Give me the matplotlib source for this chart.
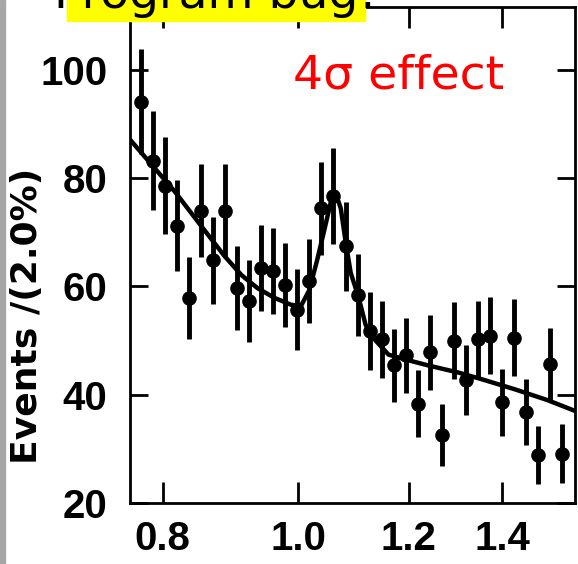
import matplotlib
matplotlib.use("Agg")
import matplotlib.pyplot as plt
from matplotlib.patches import Rectangle
from matplotlib.ticker import FixedLocator, NullLocator

# mass bin centres (2% bins) and events per bin
mass = [0.7722, 0.7876, 0.8034, 0.8195, 0.8359, 0.8526, 0.8696, 0.8870, 0.9048,
        0.9229, 0.9413, 0.9601, 0.9793, 0.9989, 1.0189, 1.0393, 1.0601, 1.0813,
        1.1029, 1.1250, 1.1475, 1.1704, 1.1938, 1.2177, 1.2421, 1.2669, 1.2923,
        1.3181, 1.3445, 1.3714, 1.3988, 1.4268, 1.4553, 1.4844, 1.5141, 1.5444]
events = [94.1, 83.2, 78.6, 71.2, 57.9, 74.0, 64.8, 74.0, 59.7,
          57.3, 63.4, 62.8, 60.3, 55.7, 61.0, 74.4, 76.7, 67.4,
          58.4, 51.8, 50.2, 45.4, 47.3, 38.3, 47.8, 32.6, 50.0,
          42.7, 50.2, 50.9, 38.6, 50.5, 36.8, 28.9, 45.6, 29.1]
errors = [9.7, 9.1, 8.9, 8.4, 7.6, 8.6, 8.0, 8.6, 7.7,
          7.6, 8.0, 7.9, 7.8, 7.5, 7.8, 8.6, 8.8, 8.2,
          7.6, 7.2, 7.1, 6.7, 6.9, 6.2, 6.9, 5.7, 7.1,
          6.5, 7.1, 7.1, 6.2, 7.1, 6.1, 5.4, 6.8, 5.4]

# fitted curve (background + peak)
fit_mass = [0.7577, 0.7874, 0.8163, 0.8476, 0.8859, 0.9109, 0.9351, 0.9615,
            0.9886, 1.0049, 1.0182, 1.0316, 1.0435, 1.0555, 1.0642, 1.0729,
            1.0818, 1.0906, 1.1050, 1.1177, 1.1362, 1.1606, 1.1934, 1.2391,
            1.3015, 1.3514, 1.4288, 1.5080, 1.5780]
fit_events = [87.2, 82.2, 77.5, 72.0, 65.6, 62.1, 59.7, 57.9,
              56.6, 56.4, 59.2, 64.7, 70.1, 75.6, 77.1, 74.4,
              68.0, 62.5, 57.9, 52.9, 50.0, 47.4, 46.5, 45.4,
              44.1, 42.9, 41.0, 39.0, 37.0]

x_ticks = [0.8, 1.0, 1.2, 1.4]
x_tick_labels = ["0.8", "1.0", "1.2", "1.4"]
y_ticks = [20, 40, 60, 80, 100]

tick_font = ["Liberation Sans", "DejaVu Sans"]

fig = plt.figure(figsize=(5.78, 5.64), dpi=100)
ax = fig.add_axes([0.2241, 0.1082, 0.7707, 0.8794])

ax.plot(fit_mass, fit_events, color="black", lw=3.2, solid_capstyle="round")
ax.errorbar(mass, events, yerr=errors, fmt="o", color="black", ms=9.5,
            elinewidth=3.5, capsize=0)

ax.set_xscale("log")
ax.set_xlim(0.7576, 1.578)
ax.set_ylim(20, 111.6)
ax.xaxis.set_major_locator(FixedLocator(x_ticks))
ax.xaxis.set_minor_locator(NullLocator())
ax.set_xticklabels(x_tick_labels)
ax.set_yticks(y_ticks)

for s in ax.spines.values():
    s.set_linewidth(2.0)
ax.tick_params(axis="x", which="both", direction="in", length=15, width=2.0,
               top=True, pad=12)
ax.tick_params(axis="y", direction="in", length=13, width=2.0, right=True, pad=16)
for lab in ax.get_xticklabels() + ax.get_yticklabels():
    lab.set_family(tick_font)
    lab.set_fontsize(29)
    lab.set_fontweight("bold")

fig.text(0.047, 0.44, "Events /(2.0%)", rotation=90, ha="center", va="center",
         fontsize=26, fontweight="bold", family=["DejaVu Sans"])

ax.text(0.603, 0.86, "4σ effect", transform=ax.transAxes, color="red",
        fontsize=34, family=["DejaVu Sans"], ha="center", va="center")

# grey strip on the left edge and the cut-off yellow banner at the top
fig.patches.append(Rectangle((0, 0), 5 / 578, 1, transform=fig.transFigure,
                             color="#a6a6a6", zorder=5))
fig.patches.append(Rectangle((67 / 578, 1 - 21 / 564), 298 / 578, 21 / 564,
                             transform=fig.transFigure, color="#ffff00", zorder=5))
fig.text(216 / 578, 1 - 8 / 564, "Program bug!", ha="center", va="baseline",
         fontsize=34, family=["DejaVu Sans"], color="black", zorder=6)

fig.savefig("out.png", dpi=100)
